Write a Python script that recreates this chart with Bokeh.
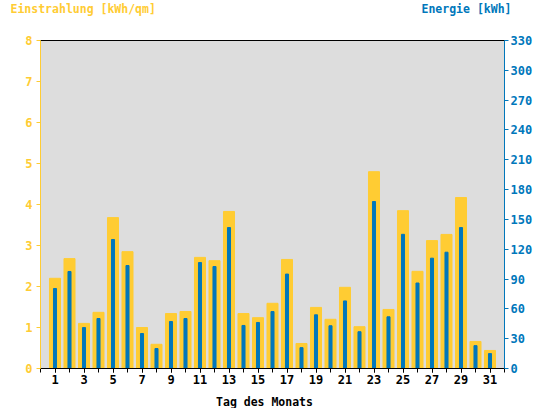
from bokeh.plotting import figure
from bokeh.models import Range1d, LinearAxis, FixedTicker, Label
from bokeh.embed import file_html
from bokeh.resources import INLINE

days = list(range(1, 32))
irradiance = [2.20, 2.68, 1.10, 1.37, 3.68, 2.85, 1.00, 0.59, 1.34, 1.39,
              2.71, 2.63, 3.83, 1.34, 1.24, 1.59, 2.66, 0.61, 1.49, 1.20,
              1.98, 1.02, 4.80, 1.44, 3.85, 2.37, 3.12, 3.27, 4.17, 0.66, 0.44]
energy = [80.5, 97.6, 41.2, 50.3, 129.8, 103.6, 35.2, 20.1, 47.3, 50.3,
          106.6, 102.6, 141.8, 43.3, 46.3, 57.3, 95.0, 21.0, 54.0, 43.0,
          68.0, 37.0, 168.0, 52.0, 135.0, 86.0, 111.0, 117.0, 141.8, 23.0, 15.0]
left_ticks = list(range(0, 9))
right_ticks = list(range(0, 331, 30))
day_labels = list(range(1, 32, 2))
day_ticks = list(range(0, 33))

YEL = "#FFCC33"
BLU = "#0077BB"
FONT = "DejaVu Sans Mono"

p = figure(width=544, height=408, output_backend="svg", toolbar_location=None,
           x_range=Range1d(0, 32), y_range=Range1d(0, 8),
           min_border_left=40, min_border_right=40, min_border_top=40,
           min_border_bottom=40)
p.extra_y_ranges = {"energy": Range1d(0, 330)}
p.background_fill_color = "#DDDDDD"
p.border_fill_color = "white"
p.outline_line_color = "black"
p.xgrid.visible = False
p.ygrid.visible = False

p.vbar(x=days, top=irradiance, width=0.76, bottom=0, color=YEL)
p.vbar(x=days, top=energy, width=0.21, bottom=0, color=BLU, y_range_name="energy")

def style(ax, col, standoff):
    ax.axis_line_color = col
    ax.major_tick_line_color = col
    ax.minor_tick_line_color = col
    ax.major_tick_out = 4
    ax.major_tick_in = 0
    ax.minor_tick_out = 4
    ax.minor_tick_in = 0
    ax.major_label_text_color = col
    ax.major_label_text_font = FONT
    ax.major_label_text_font_style = "bold"
    ax.major_label_text_font_size = "12px"
    ax.major_label_standoff = standoff

ya = p.yaxis[0]
ya.ticker = FixedTicker(ticks=left_ticks)
style(ya, YEL, 4)

ra = LinearAxis(y_range_name="energy", ticker=FixedTicker(ticks=right_ticks))
style(ra, BLU, 2)
p.add_layout(ra, "right")

xa = p.xaxis[0]
xa.ticker = FixedTicker(ticks=day_labels, minor_ticks=day_ticks)
style(xa, "black", 2)

def side_label(text, x, y, color, align, place):
    p.add_layout(Label(x=x, y=y, x_units="screen", y_units="screen",
                       text=text, text_color=color,
                       text_font=FONT, text_font_style="bold",
                       text_font_size="11.5px",
                       text_baseline="top", text_align=align), place)

# side-panel labels stack outward; screen y is measured from each one's own slot
side_label("Einstrahlung [kWh/qm]", -30, 39, YEL, "left", "above")
side_label("Energie [kWh]", 471, 25, BLU, "right", "above")
side_label("Tag des Monats", 224, 6, "black", "center", "below")

open("out.html", "w").write(file_html(p, INLINE))
